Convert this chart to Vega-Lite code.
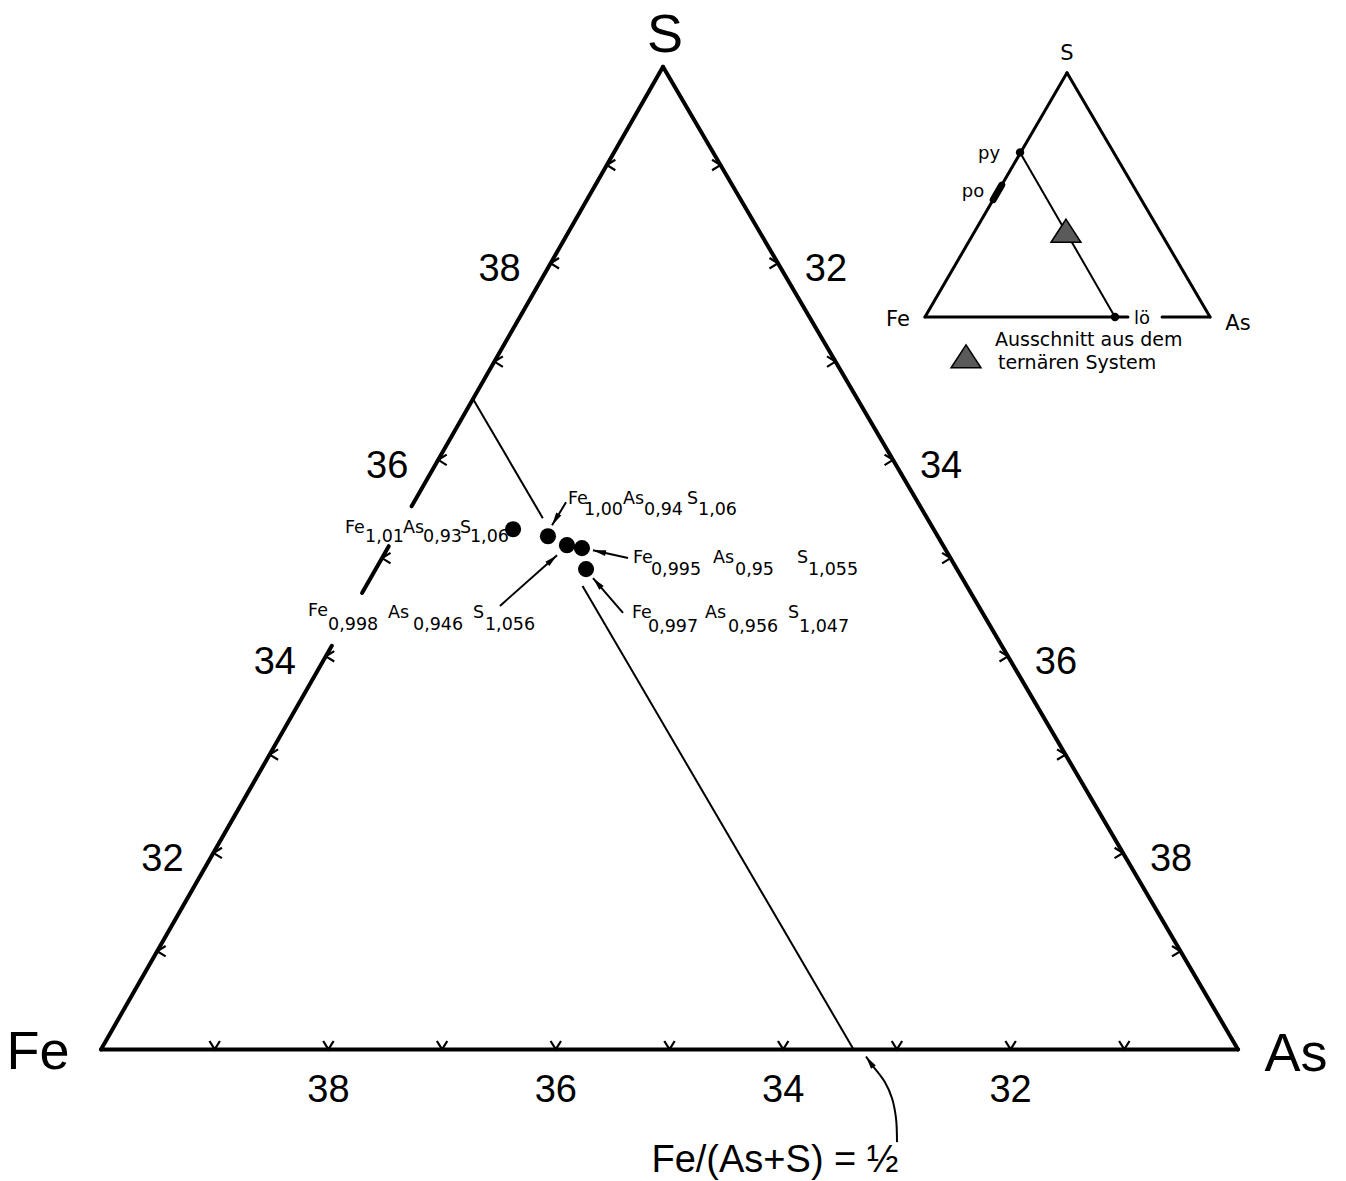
{
  "$schema": "https://vega.github.io/schema/vega-lite/v6.json",
  "width": 1346,
  "height": 1181,
  "autosize": {"type": "fit", "contains": "padding"},
  "padding": 0,
  "background": "white",
  "config": {"view": {"stroke": null}},
  "datasets": {
    "segments": [
      {"kind": "edge", "x": 0, "y": 0, "x2": 10, "y2": 0},
      {"kind": "edge", "x": 4.943, "y": 8.672, "x2": 10, "y2": 0},
      {"kind": "edge", "x": 4.943, "y": 8.672, "x2": 2.732, "y2": 4.793},
      {"kind": "edge", "x": 2.531, "y": 4.441, "x2": 2.296, "y2": 4.028},
      {"kind": "edge", "x": 2.030, "y": 3.562, "x2": 0, "y2": 0},
      {"kind": "guide", "x": 3.272, "y": 5.741, "x2": 3.886, "y2": 4.688},
      {"kind": "guide", "x": 4.235, "y": 4.090, "x2": 6.619, "y2": 0},
      {"kind": "inset", "x": 7.247, "y": 6.464, "x2": 8.496, "y2": 8.619},
      {"kind": "inset", "x": 8.496, "y": 8.619, "x2": 9.754, "y2": 6.464},
      {"kind": "inset", "x": 7.247, "y": 6.464, "x2": 9.032, "y2": 6.464},
      {"kind": "inset", "x": 9.332, "y": 6.464, "x2": 9.754, "y2": 6.464},
      {"kind": "insetGuide", "x": 8.083, "y": 7.916, "x2": 8.918, "y2": 6.464},
      {"kind": "po", "x": 7.847, "y": 7.499, "x2": 7.922, "y2": 7.628}
    ],
    "ticks": [
      {"edge": "bottom", "value": 39, "x": 1, "y": 0},
      {"edge": "bottom", "value": 38, "x": 2, "y": 0},
      {"edge": "bottom", "value": 37, "x": 3, "y": 0},
      {"edge": "bottom", "value": 36, "x": 4, "y": 0},
      {"edge": "bottom", "value": 35, "x": 5, "y": 0},
      {"edge": "bottom", "value": 34, "x": 6, "y": 0},
      {"edge": "bottom", "value": 33, "x": 7, "y": 0},
      {"edge": "bottom", "value": 32, "x": 8, "y": 0},
      {"edge": "bottom", "value": 31, "x": 9, "y": 0},
      {"edge": "left", "value": 31, "x": 0.494, "y": 0.867},
      {"edge": "left", "value": 32, "x": 0.989, "y": 1.734},
      {"edge": "left", "value": 33, "x": 1.483, "y": 2.602},
      {"edge": "left", "value": 34, "x": 1.977, "y": 3.469},
      {"edge": "left", "value": 35, "x": 2.472, "y": 4.336},
      {"edge": "left", "value": 36, "x": 2.966, "y": 5.203},
      {"edge": "left", "value": 37, "x": 3.460, "y": 6.070},
      {"edge": "left", "value": 38, "x": 3.954, "y": 6.938},
      {"edge": "left", "value": 39, "x": 4.449, "y": 7.805},
      {"edge": "right", "value": 31, "x": 5.449, "y": 7.805},
      {"edge": "right", "value": 32, "x": 5.954, "y": 6.938},
      {"edge": "right", "value": 33, "x": 6.460, "y": 6.070},
      {"edge": "right", "value": 34, "x": 6.966, "y": 5.203},
      {"edge": "right", "value": 35, "x": 7.472, "y": 4.336},
      {"edge": "right", "value": 36, "x": 7.977, "y": 3.469},
      {"edge": "right", "value": 37, "x": 8.483, "y": 2.602},
      {"edge": "right", "value": 38, "x": 8.989, "y": 1.734},
      {"edge": "right", "value": 39, "x": 9.494, "y": 0.867}
    ],
    "samples": [
      {"formula": "Fe1,01As0,93S1,06", "x": 3.624, "y": 4.591},
      {"formula": "Fe1,00As0,94S1,06", "x": 3.931, "y": 4.529},
      {"formula": "Fe0,998As0,946S1,056", "x": 4.098, "y": 4.450},
      {"formula": "Fe0,995As0,95S1,055", "x": 4.230, "y": 4.424},
      {"formula": "Fe0,997As0,956S1,047", "x": 4.266, "y": 4.239}
    ],
    "arrows": [
      {"x": 3.967, "y": 4.626, "x2": 4.090, "y2": 4.828, "angle": 211},
      {"x": 4.327, "y": 4.406, "x2": 4.635, "y2": 4.336, "angle": 283},
      {"x": 4.011, "y": 4.362, "x2": 3.509, "y2": 3.914, "angle": 48},
      {"x": 4.327, "y": 4.160, "x2": 4.591, "y2": 3.852, "angle": 319},
      {"x": 6.728, "y": -0.062, "x2": 6.790, "y2": -0.150, "angle": 325}
    ],
    "curve": [
      {"seq": 1, "x": 7.001, "y": -0.818},
      {"seq": 2, "x": 6.992, "y": -0.607},
      {"seq": 3, "x": 6.957, "y": -0.431},
      {"seq": 4, "x": 6.895, "y": -0.290},
      {"seq": 5, "x": 6.790, "y": -0.150}
    ],
    "insetPoints": [
      {"phase": "py", "x": 8.083, "y": 7.916},
      {"phase": "lö", "x": 8.918, "y": 6.464}
    ],
    "region": [
      {"where": "inset", "x": 8.487, "y": 7.225},
      {"where": "legend", "x": 7.608, "y": 6.117}
    ],
    "texts": [
      {"group": "corner", "text": "S", "x": 4.960, "y": 8.804},
      {"group": "corner", "text": "Fe", "x": -0.554, "y": -0.176},
      {"group": "corner", "text": "As", "x": 10.510, "y": -0.193},
      {"group": "note", "text": "Fe/(As+S) = ½", "x": 5.928, "y": -1.082},
      {"group": "inset", "text": "S", "x": 8.496, "y": 8.734},
      {"group": "inset", "text": "Fe", "x": 7.010, "y": 6.385},
      {"group": "inset", "text": "As", "x": 10.000, "y": 6.350},
      {"group": "phase", "text": "py", "x": 7.810, "y": 7.854},
      {"group": "phase", "text": "po", "x": 7.669, "y": 7.520},
      {"group": "phase", "text": "lö", "x": 9.156, "y": 6.403},
      {"group": "legend", "text": "Ausschnitt aus dem", "x": 7.863, "y": 6.210},
      {"group": "legend", "text": "ternären System", "x": 7.889, "y": 6.007},
      {"group": "formula", "text": "Fe", "x": 2.146, "y": 4.556},
      {"group": "formula", "text": "1,01", "x": 2.322, "y": 4.477},
      {"group": "formula", "text": "As", "x": 2.656, "y": 4.556},
      {"group": "formula", "text": "0,93", "x": 2.832, "y": 4.477},
      {"group": "formula", "text": "S", "x": 3.157, "y": 4.556},
      {"group": "formula", "text": "1,06", "x": 3.245, "y": 4.477},
      {"group": "formula", "text": "Fe", "x": 4.107, "y": 4.811},
      {"group": "formula", "text": "1,00", "x": 4.248, "y": 4.714},
      {"group": "formula", "text": "As", "x": 4.591, "y": 4.811},
      {"group": "formula", "text": "0,94", "x": 4.776, "y": 4.714},
      {"group": "formula", "text": "S", "x": 5.154, "y": 4.811},
      {"group": "formula", "text": "1,06", "x": 5.251, "y": 4.714},
      {"group": "formula", "text": "Fe", "x": 4.679, "y": 4.292},
      {"group": "formula", "text": "0,995", "x": 4.837, "y": 4.186},
      {"group": "formula", "text": "As", "x": 5.383, "y": 4.292},
      {"group": "formula", "text": "0,95", "x": 5.576, "y": 4.186},
      {"group": "formula", "text": "S", "x": 6.121, "y": 4.292},
      {"group": "formula", "text": "1,055", "x": 6.218, "y": 4.186},
      {"group": "formula", "text": "Fe", "x": 4.670, "y": 3.808},
      {"group": "formula", "text": "0,997", "x": 4.811, "y": 3.685},
      {"group": "formula", "text": "As", "x": 5.312, "y": 3.808},
      {"group": "formula", "text": "0,956", "x": 5.515, "y": 3.685},
      {"group": "formula", "text": "S", "x": 6.042, "y": 3.808},
      {"group": "formula", "text": "1,047", "x": 6.139, "y": 3.685},
      {"group": "formula", "text": "Fe", "x": 1.821, "y": 3.826},
      {"group": "formula", "text": "0,998", "x": 1.997, "y": 3.703},
      {"group": "formula", "text": "As", "x": 2.524, "y": 3.808},
      {"group": "formula", "text": "0,946", "x": 2.744, "y": 3.703},
      {"group": "formula", "text": "S", "x": 3.272, "y": 3.808},
      {"group": "formula", "text": "1,056", "x": 3.377, "y": 3.703}
    ]
  },
  "encoding": {
    "x": {"field": "x", "type": "quantitative", "axis": null,
          "scale": {"domain": [-0.8883, 10.94987], "nice": false, "zero": false}},
    "y": {"field": "y", "type": "quantitative", "axis": null,
          "scale": {"domain": [-1.12577, 9.26121], "nice": false, "zero": false}}
  },
  "layer": [
    {
      "data": {"name": "segments"},
      "transform": [{"filter": "datum.kind == 'edge'"}],
      "mark": {"type": "rule", "color": "black", "strokeWidth": 4, "strokeCap": "round"},
      "encoding": {"x2": {"field": "x2"}, "y2": {"field": "y2"}}
    },
    {
      "data": {"name": "segments"},
      "transform": [{"filter": "datum.kind == 'guide' || datum.kind == 'insetGuide'"}],
      "mark": {"type": "rule", "color": "black", "strokeWidth": 2},
      "encoding": {"x2": {"field": "x2"}, "y2": {"field": "y2"}}
    },
    {
      "data": {"name": "segments"},
      "transform": [{"filter": "datum.kind == 'inset'"}],
      "mark": {"type": "rule", "color": "black", "strokeWidth": 3, "strokeCap": "round"},
      "encoding": {"x2": {"field": "x2"}, "y2": {"field": "y2"}}
    },
    {
      "data": {"name": "segments"},
      "transform": [{"filter": "datum.kind == 'po'"}],
      "mark": {"type": "rule", "color": "black", "strokeWidth": 7, "strokeCap": "round"},
      "encoding": {"x2": {"field": "x2"}, "y2": {"field": "y2"}}
    },
    {
      "data": {"name": "ticks"},
      "mark": {"type": "point", "filled": false, "size": 170, "strokeWidth": 2.2, "color": "black", "opacity": 1},
      "encoding": {
        "shape": {"field": "edge", "type": "nominal", "legend": null,
                  "scale": {"domain": ["bottom", "left", "right"],
                            "range": ["M-0.8,-1.3L0,0L0.8,-1.3", "M1.3,-0.8L0,0L1.3,0.8", "M-1.3,-0.8L0,0L-1.3,0.8"]}}
      }
    },
    {
      "data": {"name": "ticks"},
      "transform": [{"filter": "datum.edge == 'bottom' && datum.value % 2 == 0"}],
      "mark": {"type": "text", "font": "Liberation Sans", "fontSize": 38, "align": "center", "baseline": "alphabetic", "dy": 53, "color": "black"},
      "encoding": {"text": {"field": "value"}}
    },
    {
      "data": {"name": "ticks"},
      "transform": [{"filter": "datum.edge == 'left' && datum.value % 2 == 0"}],
      "mark": {"type": "text", "font": "Liberation Sans", "fontSize": 38, "align": "center", "baseline": "alphabetic", "dx": -51, "dy": 18, "color": "black"},
      "encoding": {"text": {"field": "value"}}
    },
    {
      "data": {"name": "ticks"},
      "transform": [{"filter": "datum.edge == 'right' && datum.value % 2 == 0"}],
      "mark": {"type": "text", "font": "Liberation Sans", "fontSize": 38, "align": "center", "baseline": "alphabetic", "dx": 48, "dy": 18, "color": "black"},
      "encoding": {"text": {"field": "value"}}
    },
    {
      "data": {"name": "arrows"},
      "mark": {"type": "rule", "color": "black", "strokeWidth": 2},
      "encoding": {"x2": {"field": "x2"}, "y2": {"field": "y2"}}
    },
    {
      "data": {"name": "arrows"},
      "mark": {"type": "point", "shape": "M0,0L0.5,2.2L-0.5,2.2Z", "filled": true, "size": 140, "color": "black", "opacity": 1},
      "encoding": {"angle": {"field": "angle", "type": "quantitative", "scale": null}}
    },
    {
      "data": {"name": "curve"},
      "mark": {"type": "line", "interpolate": "catmull-rom", "color": "black", "strokeWidth": 2},
      "encoding": {"order": {"field": "seq", "type": "quantitative"}}
    },
    {
      "data": {"name": "texts"},
      "transform": [{"filter": "datum.group == 'formula'"}],
      "mark": {"type": "text", "font": "DejaVu Sans", "fontSize": 17.5, "align": "left", "baseline": "alphabetic", "color": "black"},
      "encoding": {"text": {"field": "text"}}
    },
    {
      "data": {"name": "samples"},
      "mark": {"type": "circle", "size": 260, "color": "black", "opacity": 1},
      "encoding": {"tooltip": {"field": "formula"}}
    },
    {
      "data": {"name": "insetPoints"},
      "mark": {"type": "circle", "size": 70, "color": "black", "opacity": 1}
    },
    {
      "data": {"name": "region"},
      "mark": {"type": "point", "shape": "M0,-1L1.3,1L-1.3,1Z", "filled": true, "size": 529, "fill": "#5a5a5a", "stroke": "black", "strokeWidth": 1.5, "opacity": 1}
    },
    {
      "data": {"name": "texts"},
      "transform": [{"filter": "datum.group == 'corner'"}],
      "mark": {"type": "text", "font": "Liberation Sans", "fontSize": 54, "align": "center", "baseline": "alphabetic", "color": "black"},
      "encoding": {"text": {"field": "text"}}
    },
    {
      "data": {"name": "texts"},
      "transform": [{"filter": "datum.group == 'note'"}],
      "mark": {"type": "text", "font": "Liberation Sans", "fontSize": 38, "align": "center", "baseline": "alphabetic", "color": "black"},
      "encoding": {"text": {"field": "text"}}
    },
    {
      "data": {"name": "texts"},
      "transform": [{"filter": "datum.group == 'inset'"}],
      "mark": {"type": "text", "font": "DejaVu Sans", "fontSize": 21, "align": "center", "baseline": "alphabetic", "color": "black"},
      "encoding": {"text": {"field": "text"}}
    },
    {
      "data": {"name": "texts"},
      "transform": [{"filter": "datum.group == 'phase'"}],
      "mark": {"type": "text", "font": "DejaVu Sans", "fontSize": 18, "align": "center", "baseline": "alphabetic", "color": "black"},
      "encoding": {"text": {"field": "text"}}
    },
    {
      "data": {"name": "texts"},
      "transform": [{"filter": "datum.group == 'legend'"}],
      "mark": {"type": "text", "font": "DejaVu Sans", "fontSize": 19, "align": "left", "baseline": "alphabetic", "color": "black"},
      "encoding": {"text": {"field": "text"}}
    }
  ]
}
